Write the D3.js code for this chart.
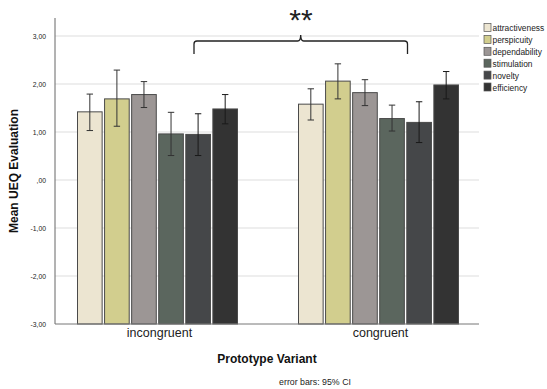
<!DOCTYPE html>
<html>
<head>
<meta charset="UTF-8">
<title>Mean UEQ Evaluation</title>
<script src="https://d3js.org/d3.v7.min.js"></script>
<style>
  body { margin: 0; background: #fff; }
  svg { font-family: "Liberation Sans", Arial, sans-serif; }
  .grid line { stroke: #dedede; stroke-width: 1.2px; }
</style>
</head>
<body>
<svg id="chart" width="547" height="389"></svg>
<script>
// data
const variants = ["incongruent", "congruent"];
const scales = ["attractiveness", "perspicuity", "dependability", "stimulation", "novelty", "efficiency"];
const colors = ["#ece5d1", "#d2ce8e", "#9c9695", "#5b665e", "#454749", "#333333"];
const meanIncongruent = [1.42, 1.69, 1.78, 0.96, 0.95, 1.48];
const lowIncongruent  = [1.03, 1.12, 1.51, 0.51, 0.51, 1.17];
const highIncongruent = [1.79, 2.29, 2.05, 1.41, 1.38, 1.78];
const meanCongruent = [1.58, 2.06, 1.82, 1.28, 1.20, 1.98];
const lowCongruent  = [1.25, 1.69, 1.55, 1.02, 0.78, 1.69];
const highCongruent = [1.90, 2.42, 2.09, 1.56, 1.63, 2.26];
const yTicks = [3, 2, 1, 0, -1, -2, -3];

const rows = [];
variants.forEach((v, i) => {
  const m = i === 0 ? meanIncongruent : meanCongruent;
  const lo = i === 0 ? lowIncongruent : lowCongruent;
  const hi = i === 0 ? highIncongruent : highCongruent;
  scales.forEach((s, j) => rows.push({ variant: v, scale: s, mean: m[j], lo: lo[j], hi: hi[j] }));
});

const svg = d3.select("#chart");
const plotLeft = 55, plotRight = 479;

const y = d3.scaleLinear().domain([-3, 3]).range([324, 36]);
const x = d3.scaleBand().domain(variants).range([47, 489]);
const xInner = d3.scaleBand().domain(scales).range([-80, 80]).paddingInner(0.09);
const color = d3.scaleOrdinal().domain(scales).range(colors);

// gridlines
svg.append("g").attr("class", "grid")
  .selectAll("line").data(yTicks.filter(t => t !== -3)).enter()
  .append("line")
  .attr("x1", plotLeft).attr("x2", plotRight)
  .attr("y1", d => y(d)).attr("y2", d => y(d));

// y axis (SPSS style: comma decimals, hyphen minus, ",00" for zero)
const fmt = d => d === 0 ? ",00" : d.toFixed(2).replace(".", ",");
const yAxis = svg.append("g")
  .attr("transform", `translate(${plotLeft},0)`)
  .call(d3.axisLeft(y).tickValues(yTicks).tickSize(0).tickPadding(9).tickFormat(fmt));
yAxis.select(".domain").remove();
yAxis.selectAll("text").attr("font-size", 6.8).attr("fill", "#222")
  .attr("font-family", "Liberation Sans, Arial, sans-serif");
svg.append("line").attr("x1", plotLeft).attr("x2", plotLeft)
  .attr("y1", 18).attr("y2", y(-3)).attr("stroke", "#666").attr("stroke-width", 1);

// bars
const bars = svg.append("g").selectAll("g").data(rows).enter().append("g")
  .attr("transform", d => `translate(${x(d.variant) + x.bandwidth() / 2},0)`);

bars.append("rect")
  .attr("x", d => xInner(d.scale))
  .attr("width", xInner.bandwidth())
  .attr("y", d => y(d.mean))
  .attr("height", d => y(-3) - y(d.mean))
  .attr("fill", d => color(d.scale))
  .attr("stroke", "#4a4a4a")
  .attr("stroke-width", 1);

// error bars
const cap = 3.2;
bars.each(function (d) {
  const g = d3.select(this);
  const cx = xInner(d.scale) + xInner.bandwidth() / 2;
  const stroke = d.scale === "novelty" || d.scale === "efficiency" ? "#1a1a1a" : "#333";
  g.append("line").attr("x1", cx).attr("x2", cx).attr("y1", y(d.hi)).attr("y2", y(d.lo))
    .attr("stroke", stroke).attr("stroke-width", 1);
  [d.hi, d.lo].forEach(v => {
    g.append("line").attr("x1", cx - cap).attr("x2", cx + cap).attr("y1", y(v)).attr("y2", y(v))
      .attr("stroke", stroke).attr("stroke-width", 1);
  });
});

// x axis baseline
svg.append("line").attr("x1", plotLeft).attr("x2", plotRight)
  .attr("y1", y(-3)).attr("y2", y(-3)).attr("stroke", "#777").attr("stroke-width", 1);

// category labels
svg.append("g").selectAll("text").data(variants).enter().append("text")
  .attr("x", d => x(d) + x.bandwidth() / 2 + 2)
  .attr("y", 337)
  .attr("text-anchor", "middle")
  .attr("font-size", 12.5)
  .attr("fill", "#222")
  .text(d => d);

// axis titles
svg.append("text")
  .attr("transform", "translate(18,171) rotate(-90)")
  .attr("text-anchor", "middle")
  .attr("font-size", 12).attr("font-weight", "bold").attr("fill", "#111")
  .text("Mean UEQ Evaluation");

svg.append("text")
  .attr("x", 267).attr("y", 363)
  .attr("text-anchor", "middle")
  .attr("font-size", 12).attr("font-weight", "bold").attr("fill", "#111")
  .text("Prototype Variant");

svg.append("text")
  .attr("x", 315).attr("y", 385)
  .attr("text-anchor", "middle")
  .attr("font-size", 8.8).attr("fill", "#222")
  .text("error bars: 95% CI");

// significance brace
const bx1 = 194, bx2 = 407.5, bmid = 300.7, btop = 41, bend = 54, bpeak = 35;
svg.append("path")
  .attr("d", `M${bx1},${bend} L${bx1},${btop + 3} Q${bx1},${btop} ${bx1 + 3},${btop}
              L${bmid - 3},${btop} Q${bmid},${btop} ${bmid},${bpeak}
              Q${bmid},${btop} ${bmid + 3},${btop} L${bx2 - 3},${btop}
              Q${bx2},${btop} ${bx2},${btop + 3} L${bx2},${bend}`)
  .attr("fill", "none").attr("stroke", "#222").attr("stroke-width", 1.3);

svg.append("text")
  .attr("x", 301).attr("y", 30)
  .attr("text-anchor", "middle")
  .attr("font-size", 30).attr("fill", "#222")
  .text("**");

// legend
const legend = svg.append("g").selectAll("g").data(scales).enter().append("g")
  .attr("transform", (d, i) => `translate(484,${23.5 + i * 11.9})`);
legend.append("rect")
  .attr("width", 7).attr("height", 8)
  .attr("fill", d => color(d))
  .attr("stroke", "#555").attr("stroke-width", 0.7);
legend.append("text")
  .attr("x", 8.5).attr("y", 7.5)
  .attr("font-size", 8.4).attr("fill", "#222")
  .text(d => d);
</script>
</body>
</html>
